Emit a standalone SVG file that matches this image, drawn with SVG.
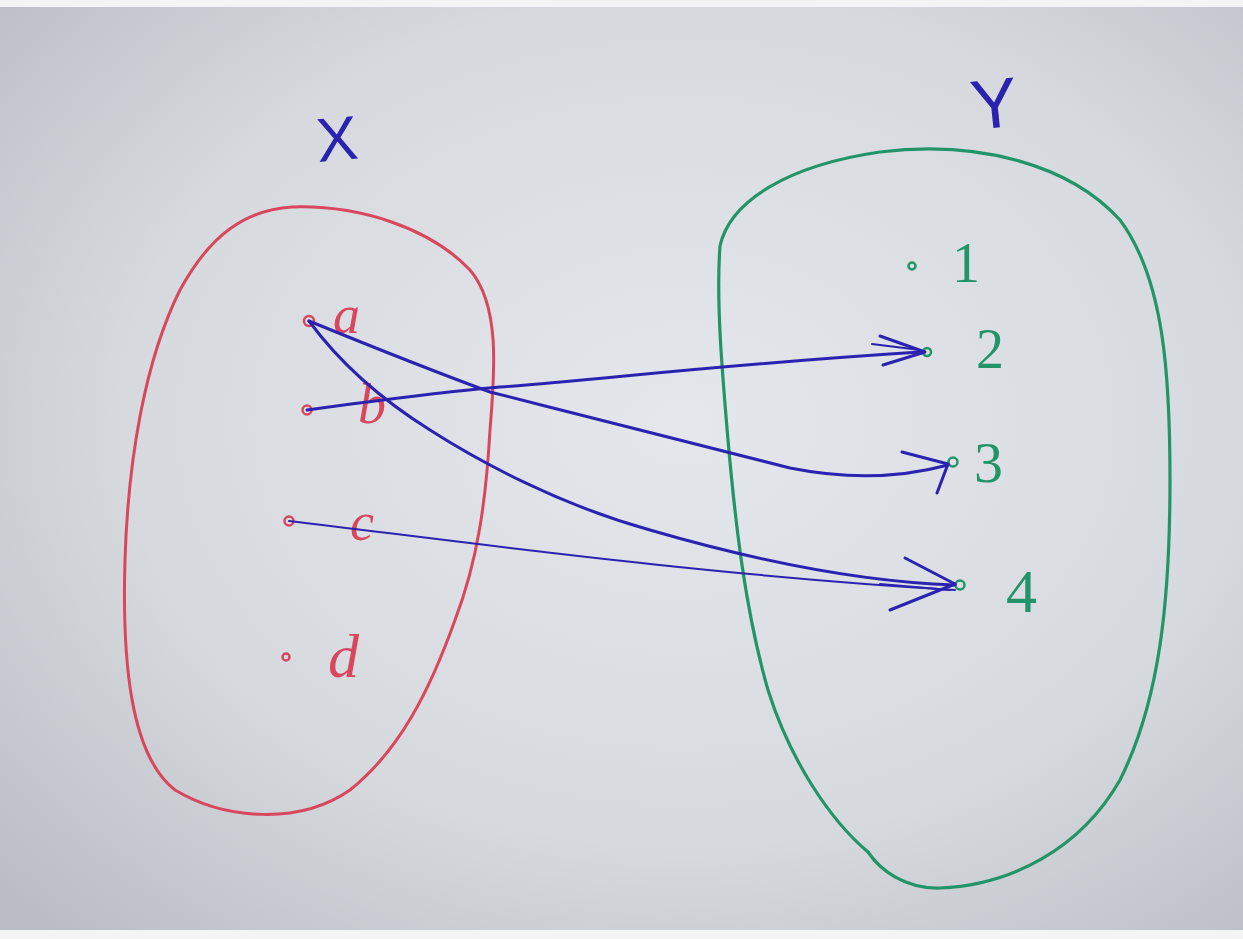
<svg xmlns="http://www.w3.org/2000/svg" width="1243" height="939" viewBox="0 0 1243 939">
<defs>
<radialGradient id="paper" cx="0.55" cy="0.45" r="0.75">
<stop offset="0" stop-color="#e4e7eb"/>
<stop offset="0.6" stop-color="#d6d9de"/>
<stop offset="1" stop-color="#b9bcc2"/>
</radialGradient>
<style>
.red{fill:none;stroke:#d9475e;stroke-width:3;stroke-linecap:round;stroke-linejoin:round}
.green{fill:none;stroke:#23946a;stroke-width:3.2;stroke-linecap:round;stroke-linejoin:round}
.blue{fill:none;stroke:#2c22b0;stroke-width:3;stroke-linecap:round;stroke-linejoin:round}
.bthin{fill:none;stroke:#2c22b0;stroke-width:2;stroke-linecap:round}
.lr{font-family:"Liberation Serif",serif;font-style:italic;fill:#d9475e}
.lg{font-family:"Liberation Serif",serif;fill:#23946a}
.lb{font-family:"Liberation Sans",sans-serif;font-weight:300;fill:#2c22b0}
.dr{fill:none;stroke:#d9475e;stroke-width:2.5}
.dg{fill:none;stroke:#23946a;stroke-width:2.5}
</style>
</defs>
<rect width="1243" height="939" fill="url(#paper)"/>
<rect x="0" y="0" width="1243" height="7" fill="#f4f4f4"/>
<rect x="0" y="930" width="1243" height="9" fill="#f4f4f4"/>

<g id="setX">
<path class="red" d="M292,207 C360,205 430,228 470,270 C500,305 495,370 490,430 C486,500 478,560 455,620 C430,690 400,750 350,790 C300,825 225,820 175,790 C130,755 122,660 125,560 C128,460 145,360 180,290 C210,235 245,210 292,207 Z"/>
<text class="lb" x="316" y="160" font-size="62" transform="rotate(-5 340 135)">X</text>
</g>
<g id="setY">
<path class="green" d="M720,246 C730,200 790,165 880,152 C980,140 1070,165 1120,220 C1165,280 1170,380 1170,480 C1170,600 1160,700 1120,780 C1080,850 1010,885 940,888 C905,889 880,870 868,852 C830,820 790,760 768,690 C745,610 735,520 728,440 C722,370 716,300 720,246 Z"/>
<text class="lb" x="970" y="128" font-size="70" transform="rotate(-6 990 95)">Y</text>
</g>

<g id="node-a"><circle class="dr" cx="309" cy="321" r="5" fill="#c0303f"/><text class="lr" x="333" y="333" font-size="54">a</text></g>
<g id="node-b"><circle class="dr" cx="307" cy="410" r="4.5"/><text class="lr" x="358" y="423" font-size="56">b</text></g>
<g id="node-c"><circle class="dr" cx="289" cy="521" r="4.5"/><text class="lr" x="350" y="540" font-size="54">c</text></g>
<g id="node-d"><circle class="dr" cx="286" cy="657" r="3.5"/><text class="lr" x="328" y="677" font-size="62">d</text></g>

<g id="node-1"><circle class="dg" cx="912" cy="266" r="3.5"/><text class="lg" x="952" y="282" font-size="56">1</text></g>
<g id="node-2"><circle class="dg" cx="927" cy="352" r="4"/><text class="lg" x="976" y="368" font-size="56">2</text></g>
<g id="node-3"><circle class="dg" cx="953" cy="462" r="4.5"/><text class="lg" x="974" y="482" font-size="58">3</text></g>
<g id="node-4"><circle class="dg" cx="960" cy="585" r="4.5"/><text class="lg" x="1006" y="612" font-size="62">4</text></g>

<g id="connectors">
<!-- b -> 2 -->
<path class="blue" d="M307,410 C380,400 440,392 500,387 C600,380 700,366 920,352"/>
<path class="blue" d="M880,336 L925,352 L883,365"/>
<path class="bthin" d="M872,344 L920,350"/>
<!-- a -> 3 -->
<path class="blue" d="M309,321 C380,350 430,370 490,392 C600,420 720,450 790,468 C850,480 900,478 948,465"/>
<path class="blue" d="M902,452 L948,464 L937,493"/>
<!-- a -> 4 -->
<path class="blue" d="M309,321 C345,370 390,405 430,430 C480,462 560,505 650,530 C760,562 860,582 955,585"/>
<path class="blue" d="M905,558 L955,584 L890,610"/>
<path class="bthin" d="M880,584 L950,590"/>
<!-- c -> 4 -->
<path class="bthin" d="M289,521 C450,540 700,575 955,590"/>
</g>
</svg>
